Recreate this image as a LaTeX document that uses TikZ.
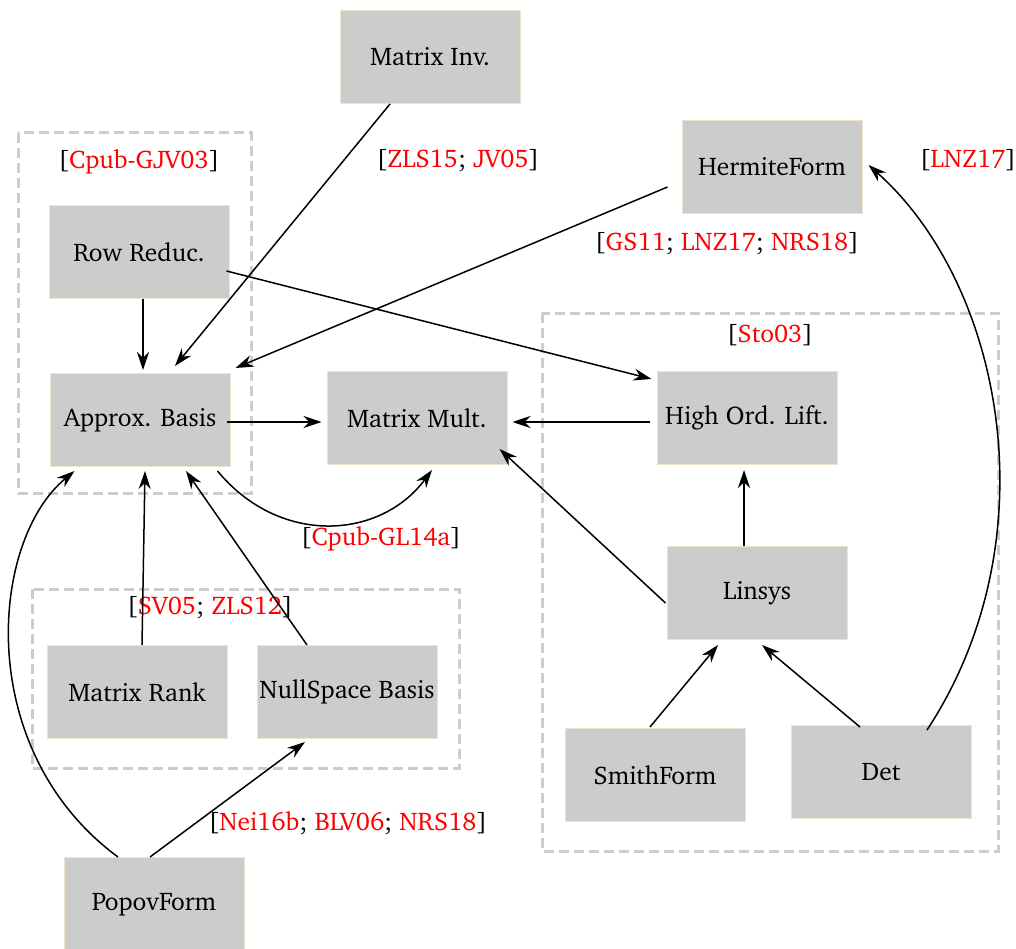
\documentclass[tikz,border=0pt]{standalone}
\usepackage[T1]{fontenc}
\usepackage{charter}
\usetikzlibrary{arrows.meta}
\definecolor{boxfill}{HTML}{CCCCCC}
\definecolor{boxborder}{HTML}{F0E2CC}
\definecolor{grpcol}{HTML}{CCCCCC}
\newcommand\myfont{\fontsize{25.5}{30}\selectfont}
\newcommand\cit[1]{\textcolor{red}{#1}}
\begin{document}
\begin{tikzpicture}[x=1pt,y=-1pt,
  box/.style={draw=boxborder, fill=boxfill, line width=1pt, minimum width=180pt, minimum height=93pt, inner sep=0pt, font=\myfont},
  grp/.style={draw=grpcol, line width=3pt, dash pattern=on 10pt off 5pt},
  lbl/.style={font=\myfont, inner sep=0pt},
  arr/.style={-{Stealth[length=18pt,width=12pt]}, line width=1.5pt},
]
\useasboundingbox (0,0) rectangle (1016,949);
% groups
\draw[grp] (18,133) rectangle (251,493);
\draw[grp] (32,589) rectangle (459,768);
\draw[grp] (542,313) rectangle (998,851);
% nodes
\node[box] (mi) at (430,57) {Matrix Inv.};
\node[box] (hf) at (772,167) {HermiteForm};
\node[box] (rr) at (139,252) {Row Reduc.};
\node[box] (ab) at (140,420) {Approx. Basis};
\node[box] (mm) at (417,418) {Matrix Mult.};
\node[box] (hol) at (747,418) {High Ord. Lift.};
\node[box] (lin) at (757,593) {Linsys};
\node[box] (mr) at (137,692) {Matrix Rank};
\node[box] (nsb) at (347,692) {NullSpace Basis};
\node[box] (sf) at (655,775) {SmithForm};
\node[box] (det) at (881,772) {Det};
\node[box] (pf) at (154,904) {PopovForm};
% labels
\node[lbl] (l1) at (139,162) {[\cit{Cpub-GJV03}]};
\node[lbl] (l2) at (458,161) {[\cit{ZLS15}; \cit{JV05}]};
\node[lbl] (l3) at (968,160) {[\cit{LNZ17}]};
\node[lbl] (l4) at (727,244) {[\cit{GS11}; \cit{LNZ17}; \cit{NRS18}]};
\node[lbl] (l5) at (770,335) {[\cit{Sto03}]};
\node[lbl] (l6) at (381,539) {[\cit{Cpub-GL14a}]};
\node[lbl] (l7) at (210,608) {[\cit{SV05}; \cit{ZLS12}]};
\node[lbl] (l8) at (348,823) {[\cit{Nei16b}; \cit{BLV06}; \cit{NRS18}]};
% connectors
\draw[arr] ([shift={(-40,0)}]mi.south) -- ([shift={(35,-7)}]ab.north);
\draw[arr] ([shift={(-14,20)}]hf.west) -- ([shift={(5,-5)}]ab.north east);
\draw[arr] ([shift={(-3,19)}]rr.east) -- ([shift={(-5,8)}]hol.north west);
\draw[arr] ([shift={(4,0)}]rr.south) -- ([shift={(3,-3)}]ab.north);
\draw[arr] ([shift={(-4,2)}]ab.east) -- ([shift={(-5,4)}]mm.west);
\draw[arr] ([shift={(-7,4)}]hol.west) -- ([shift={(5,4)}]mm.east);
\draw[arr] ([shift={(-1,10)}]lin.west) -- ([shift={(-8,-16)}]mm.south east);
\draw[arr] ([shift={(-13,0)}]lin.north) -- ([shift={(-3,5)}]hol.south);
\draw[arr] ([shift={(-5,-1)}]sf.north) -- ([shift={(-39,5)}]lin.south);
\draw[arr] ([shift={(-21,2)}]det.north) -- ([shift={(5,5)}]lin.south);
\draw[arr] ([shift={(46,5)}]det.north) .. controls +(125,-190) and +(135,120) .. ([shift={(6,-2)}]hf.east);
\draw[arr] ([shift={(5,0)}]mr.north) -- ([shift={(5,4)}]ab.south);
\draw[arr] ([shift={(-40,0)}]nsb.north) -- ([shift={(46,4)}]ab.south);
\draw[arr] ([shift={(-36,0)}]pf.north) .. controls +(-145,-107) and +(-85,70) .. ([shift={(25,4)}]ab.south west);
\draw[arr] ([shift={(-4,0)}]pf.north) -- ([shift={(-42,3)}]nsb.south);
\draw[arr] ([shift={(-13,4)}]ab.south east) .. controls +(62,75) and +(-52,70) .. ([shift={(15,5)}]mm.south);
\end{tikzpicture}
\end{document}
